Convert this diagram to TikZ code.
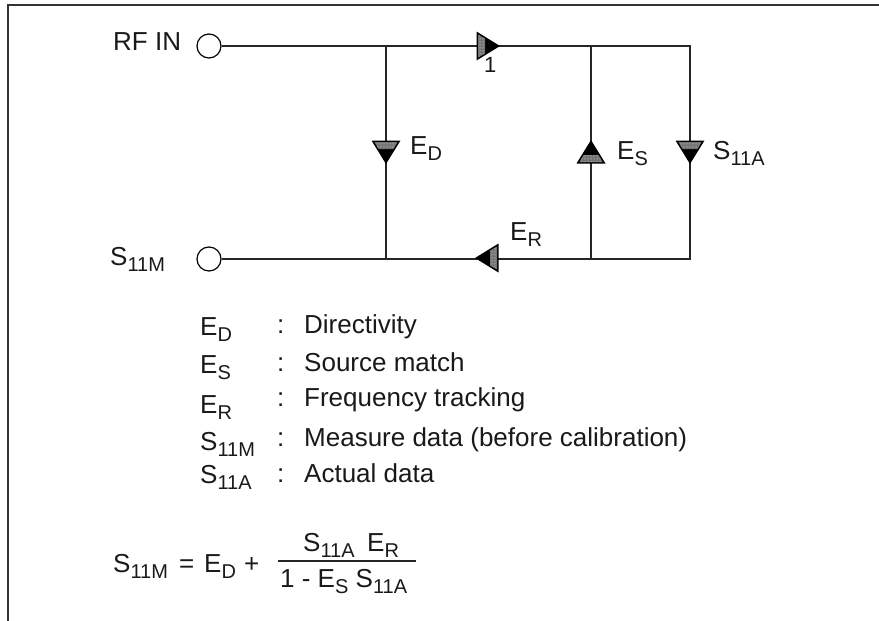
\documentclass[tikz,border=0pt]{standalone}
\usepackage{fontspec}
\setmainfont{Liberation Sans}
\usetikzlibrary{patterns}
\newcommand{\sbs}[2]{#1\raisebox{-0.25em}{\fontsize{20}{20}\selectfont #2}}
\tikzset{
  x=1pt,y=-1pt,
  wire/.style={line width=1.1pt,black!85},
  port/.style={circle,draw,line width=1.2pt,minimum size=24pt,inner sep=0pt},
  txt/.style={anchor=base west,inner sep=0pt,font=\fontsize{26}{28}\selectfont,text=black!90},
  tri/.pic={
    \fill[black] (-14.5,-11.5) -- (14.5,-11.5) -- (0,12) -- cycle;
    \fill[black!55] (-11.5,-10) -- (11.5,-10) -- (7.5,-3) -- (-7.5,-3) -- cycle;
    \fill[pattern=dots,pattern color=white] (-11.5,-10) -- (11.5,-10) -- (7.5,-3) -- (-7.5,-3) -- cycle;
  }
}
\begin{document}
\begin{tikzpicture}
\useasboundingbox (0,0) rectangle (879,621);
% frame
\coordinate (fa) at (8,621);
\coordinate (fb) at (8,5);
\coordinate (fc) at (879,5);
\draw[line width=1.1pt,black!80] (fa) -- (fb) -- (fc);
% ports
\node[port] (rf) at (209,46) {};
\node[port] (sm) at (209,259) {};
% junctions
\coordinate (t1) at (386,46);
\coordinate (t2) at (591,46);
\coordinate (t3) at (690,46);
\coordinate (b1) at (386,259);
\coordinate (b2) at (591,259);
\coordinate (b3) at (690,259);
% wires
\draw[wire] (rf) -- (t1) -- (t2) -- (t3) -- (b3) -- (b2) -- (b1) -- (sm);
\draw[wire] (t1) -- (b1);
\draw[wire] (t2) -- (b2);
% triangles
\pic at (488,46) [rotate=90] {tri};
\pic at (386,152) {tri};
\pic at (591,152) [rotate=180] {tri};
\pic at (690,152) {tri};
\pic at (487,258) [rotate=-90] {tri};
% diagram labels
\node[txt] (lrf) at (113,50) {RF IN};
\node[txt] (lsm) at (110,265) {\sbs{S}{11M}};
\node[txt,font=\fontsize{22}{24}\selectfont] (lone) at (484,72) {1};
\node[txt] (led) at (410,154) {\sbs{E}{D}};
\node[txt] (les) at (617,159) {\sbs{E}{S}};
\node[txt] (lsa) at (713,159) {\sbs{S}{11A}};
\node[txt] (ler) at (510,240) {\sbs{E}{R}};
% legend
\node[txt] (k1) at (200,335) {\sbs{E}{D}};
\node[txt] (k2) at (200,373) {\sbs{E}{S}};
\node[txt] (k3) at (200,413) {\sbs{E}{R}};
\node[txt] (k4) at (200,450) {\sbs{S}{11M}};
\node[txt] (k5) at (200,483) {\sbs{S}{11A}};
\node[txt] (c1) at (277,333) {:};
\node[txt] (c2) at (277,371) {:};
\node[txt] (c3) at (277,406) {:};
\node[txt] (c4) at (277,446) {:};
\node[txt] (c5) at (277,482) {:};
\node[txt] (d1) at (304,333) {Directivity};
\node[txt] (d2) at (304,371) {Source match};
\node[txt] (d3) at (304,406) {Frequency tracking};
\node[txt] (d4) at (304,446) {Measure data (before calibration)};
\node[txt] (d5) at (304,482) {Actual data};
% formula
\node[txt] (f1) at (113,572) {\sbs{S}{11M}};
\node[txt] (f2) at (179,572) {=};
\node[txt] (f3) at (204,572) {\sbs{E}{D}};
\node[txt] (f4) at (244,572) {+};
\node[txt] (fn) at (303,551) {\sbs{S}{11A}};
\node[txt] (fm) at (367,551) {\sbs{E}{R}};
\node[txt] (fd) at (280,587) {1 - \sbs{E}{S} \sbs{S}{11A}};
\coordinate (fl) at (278,561);
\coordinate (fr) at (416,561);
\draw[wire] (fl) -- (fr);
\end{tikzpicture}
\end{document}
